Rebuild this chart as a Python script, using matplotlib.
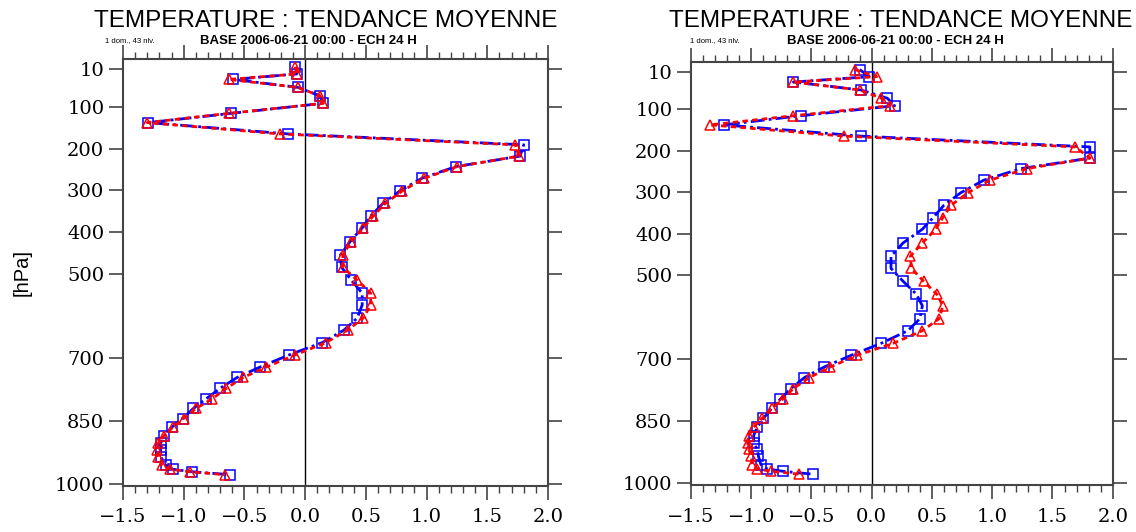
import matplotlib
matplotlib.use('Agg')
import matplotlib.pyplot as plt
from matplotlib.ticker import MultipleLocator

# pressure levels (hPa), shared by both panels
levels = [5, 22, 35, 54, 74, 92, 116, 138, 165, 191, 218, 243, 271, 301, 331, 361,
          389, 422, 454, 483, 514, 545, 573, 604, 633, 663, 692, 721, 746, 772, 798,
          820, 844, 865, 885, 903, 918, 935, 955, 965, 971, 978]

# left panel
left_blue = [-0.08, -0.07, -0.59, -0.06, 0.12, 0.15, -0.61, -1.29, -0.14, 1.80, 1.77,
             1.24, 0.96, 0.78, 0.64, 0.54, 0.47, 0.37, 0.29, 0.30, 0.38, 0.47, 0.47,
             0.43, 0.32, 0.14, -0.13, -0.37, -0.56, -0.70, -0.82, -0.92, -1.01, -1.10,
             -1.16, -1.19, -1.19, -1.19, -1.15, -1.09, -0.93, -0.62]
left_red = [-0.08, -0.07, -0.63, -0.06, 0.12, 0.15, -0.63, -1.30, -0.21, 1.73, 1.76,
            1.25, 0.98, 0.80, 0.66, 0.56, 0.48, 0.38, 0.31, 0.31, 0.43, 0.54, 0.54,
            0.48, 0.35, 0.17, -0.08, -0.32, -0.51, -0.65, -0.77, -0.90, -1.00, -1.09,
            -1.16, -1.21, -1.22, -1.21, -1.18, -1.11, -0.95, -0.66]

# right panel
right_blue = [-0.10, -0.02, -0.65, -0.09, 0.13, 0.19, -0.59, -1.23, -0.09, 1.81, 1.81,
              1.24, 0.93, 0.74, 0.60, 0.51, 0.42, 0.26, 0.16, 0.16, 0.26, 0.37, 0.42,
              0.40, 0.30, 0.08, -0.17, -0.40, -0.56, -0.67, -0.76, -0.83, -0.90, -0.95,
              -0.98, -0.98, -0.95, -0.94, -0.92, -0.87, -0.74, -0.49]
right_red = [-0.14, 0.04, -0.65, -0.10, 0.08, 0.15, -0.65, -1.34, -0.23, 1.69, 1.81,
             1.29, 0.98, 0.80, 0.66, 0.59, 0.53, 0.42, 0.32, 0.33, 0.43, 0.54, 0.59,
             0.56, 0.42, 0.18, -0.12, -0.35, -0.52, -0.65, -0.74, -0.83, -0.91, -0.98,
             -1.02, -1.03, -1.02, -1.00, -0.99, -0.95, -0.84, -0.60]

yticks = [10, 100, 200, 300, 400, 500, 700, 850, 1000]
xticks = [-1.5, -1.0, -0.5, 0.0, 0.5, 1.0, 1.5, 2.0]

title = 'TEMPERATURE : TENDANCE MOYENNE'
sub1 = '1 dom., 43 nlv.'
sub2 = 'BASE 2006-06-21 00:00 - ECH 24 H'

W, H = 1136, 532
fig = plt.figure(figsize=(W / 100, H / 100), dpi=100)


def px_axes(x0, x1, y0, y1):
    return fig.add_axes([x0 / W, 1 - y1 / H, (x1 - x0) / W, (y1 - y0) / H])


def draw_panel(ax, blue, red):
    ax.axvline(0, color='black', lw=1.0, zorder=1)
    ax.plot(blue, levels, color='blue', lw=2, ls=(0, (5, 1.5, 1, 1.5)),
            marker='s', ms=6.5, mfc='none', mec='blue', mew=1.1, zorder=3)
    ax.plot(red, levels, color='red', lw=2, ls=(0, (2, 1.5)),
            marker='^', ms=6.5, mfc='none', mec='red', mew=1.1, zorder=4)
    ax.set_xlim(-1.5, 2.0)
    ax.set_ylim(1005, -13)
    ax.set_xticks(xticks)
    ax.set_xticklabels([('%.1f' % v).replace('-', '\u2212') for v in xticks])
    ax.xaxis.set_minor_locator(MultipleLocator(0.1))
    ax.set_yticks(yticks)
    ax.tick_params(axis='both', which='major', direction='out', length=10, width=1.2,
                   color='#444444', labelsize=14, top=True, right=True, labelright=False)
    ax.tick_params(axis='x', which='minor', direction='out', length=5, width=1.0,
                   color='#444444', top=True)
    ax.tick_params(axis='x', which='major', pad=6)
    for lab in ax.get_xticklabels() + ax.get_yticklabels():
        lab.set_family('DejaVu Serif')
    for s in ax.spines.values():
        s.set_linewidth(1.5)
        s.set_color('#444444')


ax1 = px_axes(123, 548, 59.3, 486)
draw_panel(ax1, left_blue, left_red)
ax1.set_ylabel('[hPa]', fontsize=14.5, family='Liberation Sans')
ax1.yaxis.set_label_coords(-0.215, 0.50)

ax2 = px_axes(691, 1112.7, 62.1, 485.4)
draw_panel(ax2, right_blue, right_red)

for x_t, x_s1, x_s2 in [(326, 105, 200), (901, 690, 787)]:
    fig.text(x_t / W, 1 - 21 / H, title, ha='center', va='center', fontsize=17.5,
             family='Liberation Sans')
    fig.text(x_s1 / W, 1 - 41 / H, sub1, ha='left', va='center', fontsize=5.5,
             family='Liberation Sans')
    fig.text(x_s2 / W, 1 - 41 / H, sub2, ha='left', va='center', fontsize=9.5,
             family='Liberation Sans', weight='bold')

fig.savefig('out.png', dpi=100)
